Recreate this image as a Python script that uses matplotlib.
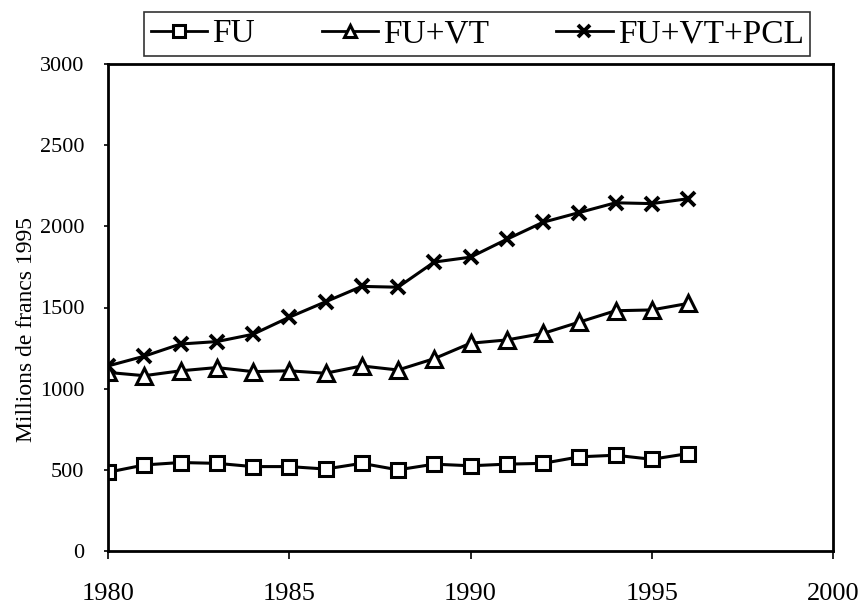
import numpy as np
import matplotlib
matplotlib.use('Agg')
from matplotlib import pyplot as plt

plt.rcParams['font.family'] = ['Liberation Serif', 'DejaVu Serif']

years = list(range(1980, 1997))
fu = [485, 530, 545, 540, 520, 520, 505, 540, 500, 535, 525, 535, 540, 580, 590, 565, 600]
fu_vt = [1100, 1080, 1110, 1130, 1105, 1110, 1095, 1140, 1115, 1185, 1280, 1300, 1340, 1410, 1480, 1485, 1525]
fu_vt_pcl = [1140, 1200, 1275, 1290, 1335, 1440, 1535, 1630, 1625, 1780, 1810, 1920, 2025, 2085, 2145, 2140, 2170]

fig = plt.figure(figsize=(8.66, 6.05), dpi=100)
# axes box: x 108..833, y 64..551 px
ax = fig.add_axes([108/866, 1 - 551/605, 725/866, 487/605])

ax.plot(years, fu, 'k-', lw=2.2, marker='s', ms=10, mfc='white', mec='black', mew=2.2, label='FU')
ax.plot(years, fu_vt, 'k-', lw=2.2, marker='^', ms=11, mfc='white', mec='black', mew=2.2, label='FU+VT')
ax.plot(years, fu_vt_pcl, 'k-', lw=2.2, marker='x', ms=10, mec='black', mew=2.8, label='FU+VT+PCL')

ax.set_xlim(1980, 2000)
ax.set_ylim(0, 3000)
ax.set_xticks([1980, 1985, 1990, 1995, 2000])
ax.set_yticks(np.arange(0, 3001, 500))
ax.tick_params(axis='x', direction='out', length=6, width=1.2, labelsize=19, pad=17)
ax.tick_params(axis='y', direction='out', length=3, width=1.2, labelsize=16, pad=14)
for s in ax.spines.values():
    s.set_linewidth(2)
ax.set_ylabel('Millions de francs 1995', fontsize=17)
ax.yaxis.set_label_coords(-0.098, 0.455)

leg = fig.legend(loc='center', bbox_to_anchor=(477/866, 1 - 34/605), ncol=3, fontsize=24,
                 frameon=True, fancybox=False, edgecolor='black', handlelength=1.7,
                 columnspacing=2.0, handletextpad=0.15, borderpad=0.2, borderaxespad=0,
                 markerscale=0.8)
leg.get_frame().set_linewidth(1.2)
for h in leg.get_lines():
    h.set_linewidth(2)

plt.savefig('out.png', dpi=100)
